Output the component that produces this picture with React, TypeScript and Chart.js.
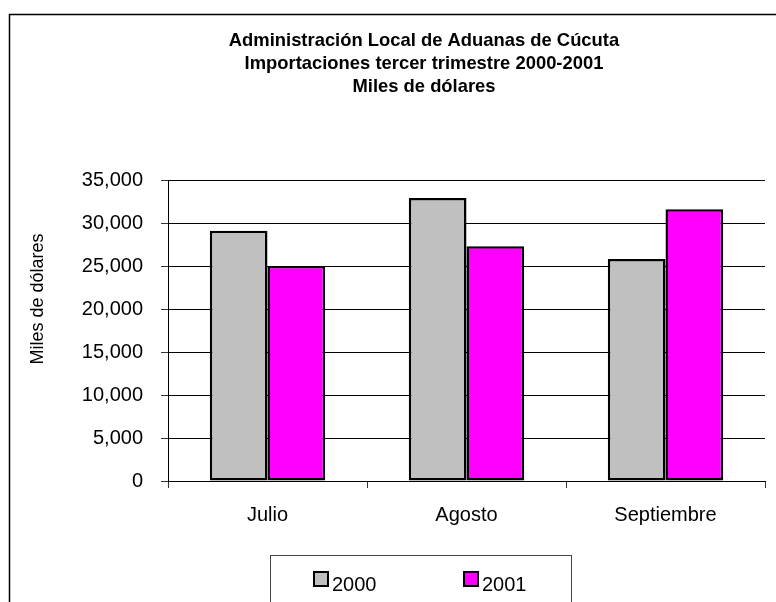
import React, { useEffect, useRef } from "react";
import { Chart, registerables } from "chart.js";

Chart.register(...registerables);

const TITLE_LINES = [
  "Administración Local de Aduanas de Cúcuta",
  "Importaciones tercer trimestre 2000-2001",
  "Miles de dólares",
];
const CATEGORIES = ["Julio", "Agosto", "Septiembre"];
const SERIES_LABELS = ["2000", "2001"];
const VALUES_2000 = [29100, 32900, 25800];
const VALUES_2001 = [25000, 27300, 31600];
const SERIES_COLORS = ["#C0C0C0", "#FF00FF"];
const Y_TITLE = "Miles de dólares";
const Y_MIN = 0;
const Y_MAX = 35000;
const Y_STEP = 5000;

const FONT = "'Liberation Sans', Arial, sans-serif";

const decorPlugin = {
  id: "decor",
  afterDraw(chart: any) {
    const ctx = chart.ctx;
    ctx.save();
    // outer border
    ctx.strokeStyle = "#000";
    ctx.lineWidth = 1.5;
    ctx.strokeRect(9.5, 14.5, 830, 700);
    // title
    ctx.fillStyle = "#000";
    ctx.font = `bold 18.4px ${FONT}`;
    ctx.textAlign = "center";
    ctx.textBaseline = "alphabetic";
    TITLE_LINES.forEach((line, i) => {
      ctx.fillText(line, 424, 46 + i * 23);
    });
    // y-axis title
    ctx.save();
    ctx.translate(38, 299);
    ctx.rotate(-Math.PI / 2);
    ctx.font = `18px ${FONT}`;
    ctx.textAlign = "center";
    ctx.textBaseline = "middle";
    ctx.fillText(Y_TITLE, 0, 0);
    ctx.restore();
    // legend
    ctx.strokeStyle = "#444";
    ctx.lineWidth = 1;
    ctx.strokeRect(270.5, 555.5, 301, 100);
    ctx.font = `20px ${FONT}`;
    ctx.textAlign = "left";
    ctx.textBaseline = "alphabetic";
    chart.data.datasets.forEach((ds: any, i: number) => {
      const x = 314 + i * 150;
      ctx.fillStyle = ds.backgroundColor;
      ctx.fillRect(x, 572, 14, 14);
      ctx.strokeStyle = "#000";
      ctx.lineWidth = 2;
      ctx.strokeRect(x, 572, 14, 14);
      ctx.fillStyle = "#000";
      ctx.fillText(ds.label, x + 18, 591);
    });
    ctx.restore();
  },
};

export default function App() {
  const ref = useRef<HTMLCanvasElement | null>(null);
  useEffect(() => {
    if (!ref.current) return;
    const chart = new Chart(ref.current, {
      type: "bar",
      data: {
        labels: CATEGORIES,
        datasets: [
          {
            label: SERIES_LABELS[0],
            data: VALUES_2000,
            backgroundColor: SERIES_COLORS[0],
            borderColor: "#000",
            borderWidth: 2.5,
            borderSkipped: false,
          },
          {
            label: SERIES_LABELS[1],
            data: VALUES_2001,
            backgroundColor: SERIES_COLORS[1],
            borderColor: "#000",
            borderWidth: 2.5,
            borderSkipped: false,
          },
        ],
      },
      options: {
        responsive: false,
        animation: false,
        devicePixelRatio: 1,
        layout: { padding: { left: 0, top: 180, right: 85, bottom: 113 } },
        datasets: { bar: { categoryPercentage: 0.58, barPercentage: 1.0 } },
        plugins: {
          legend: { display: false },
          title: { display: false },
          tooltip: { enabled: false },
        },
        scales: {
          x: {
            afterFit: (s: any) => {
              s.height = 46;
            },
            grid: {
              offset: true,
              drawOnChartArea: true,
              color: (c: any) => (c.index === 3 ? "#808080" : "rgba(0,0,0,0)"),
              tickColor: (c: any) => (c.index === 3 ? "#808080" : "#333"),
              tickLength: 7,
              lineWidth: 1,
            },
            border: { display: true, color: "#000", width: 1 },
            ticks: {
              color: "#000",
              font: { family: FONT, size: 20 },
              padding: 15,
            },
          },
          y: {
            min: Y_MIN,
            max: Y_MAX,
            afterFit: (s: any) => {
              s.width = 168;
            },
            grid: {
              color: "#000",
              tickColor: "#333",
              tickLength: 7,
              lineWidth: 1,
            },
            border: { display: true, color: "#000", width: 1 },
            ticks: {
              stepSize: Y_STEP,
              color: "#000",
              padding: 18,
              font: { family: FONT, size: 20 },
              callback: (v: any) => Number(v).toLocaleString("en-US"),
            },
          },
        },
      },
      plugins: [decorPlugin],
    });
    return () => chart.destroy();
  }, []);
  return (
    <div
      style={{
        position: "fixed",
        left: 0,
        top: 0,
        width: 776,
        height: 602,
        overflow: "hidden",
        background: "#fff",
      }}
    >
      <canvas ref={ref} width={850} height={640} style={{ width: 850, height: 640, display: "block" }} />
    </div>
  );
}
